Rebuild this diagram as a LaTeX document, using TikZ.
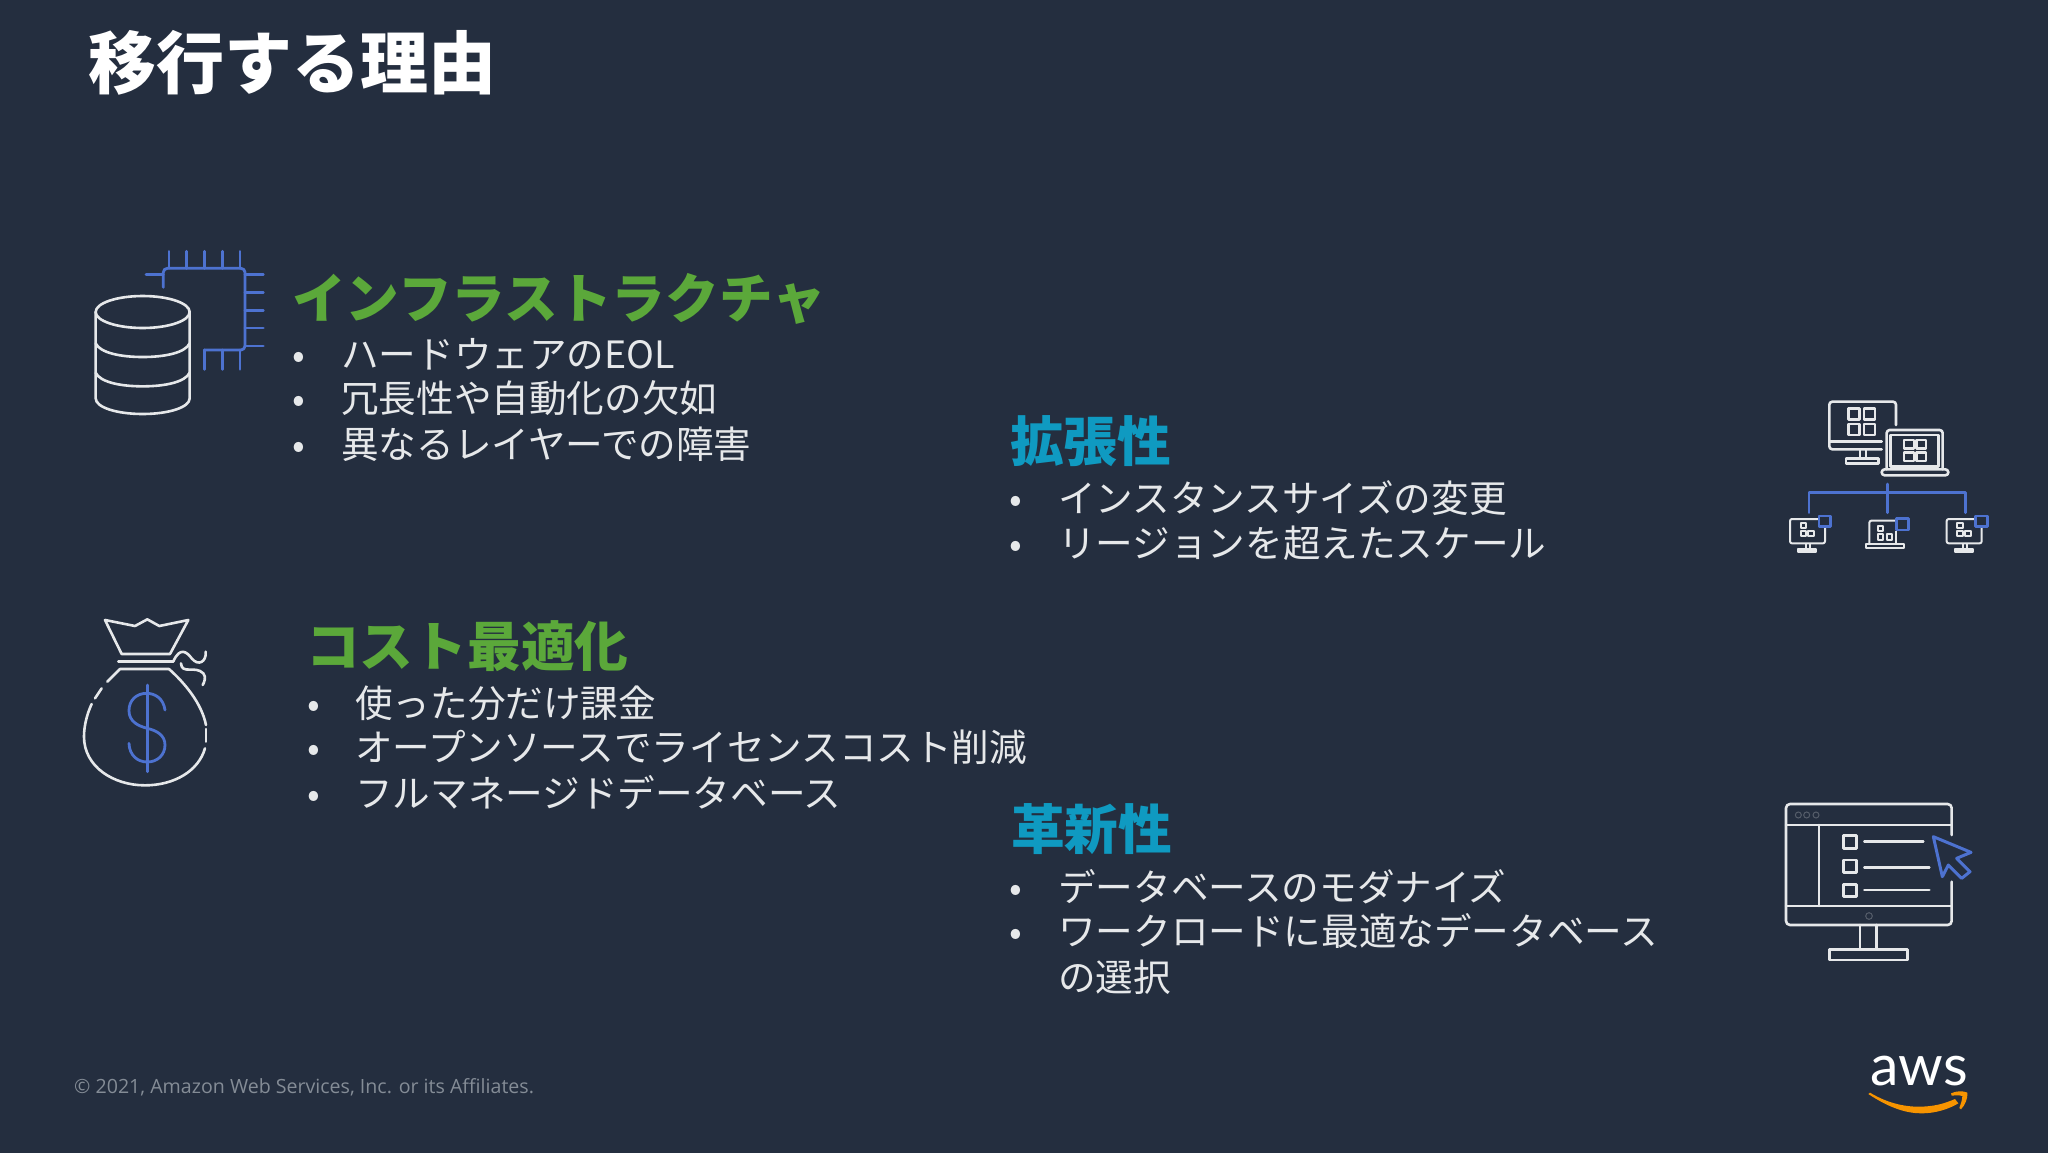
\documentclass[tikz,border=0pt]{standalone}
\usepackage{fontspec}
\setmainfont{Noto Sans CJK JP}
\newfontfamily\latinfont{Open Sans}
\newfontfamily\logofont{Lato}
\definecolor{bgc}{HTML}{242E3F}
\definecolor{greenc}{HTML}{5BA83A}
\definecolor{tealc}{HTML}{0F9AC1}
\definecolor{bluec}{HTML}{4D72D0}
\definecolor{linec}{HTML}{E6E8EA}
\definecolor{footc}{HTML}{848C96}
\definecolor{orangec}{HTML}{F79400}
\tikzset{
  txt/.style={anchor=west,inner sep=0pt},
  titletxt/.style={txt,text height=59pt,text depth=8pt,text=white,font=\fontsize{68}{68}\selectfont\bfseries},
  greenhead/.style={txt,text height=47pt,text depth=6pt,text=greenc,font=\fontsize{53.7}{53.7}\selectfont\bfseries},
  tealhead/.style={txt,text height=47pt,text depth=6pt,text=tealc,font=\fontsize{53.7}{53.7}\selectfont\bfseries},
  body/.style={txt,text height=33pt,text depth=4.5pt,text=linec,font=\fontsize{37.6}{45}\selectfont},
  bul/.style={anchor=center,inner sep=0pt,text height=33pt,text depth=4.5pt,text=linec,font=\fontsize{37.6}{45}\selectfont},
  wl/.style={draw=linec,line width=2.6pt,line join=round,line cap=round},
  bl/.style={draw=bluec,line width=2.8pt,line join=round,line cap=round},
  wt/.style={draw=linec,line width=2pt,line join=round},
  bs/.style={draw=bluec,line width=2.4pt,line join=round},
  faint/.style={draw=linec!25!bgc,line width=1pt},
}
\begin{document}
\begin{tikzpicture}[x=1pt,y=-1pt]
\useasboundingbox (0,0) rectangle (2048,1152);
\fill[bgc] (-4,-4) rectangle (2052,1156);

\node[titletxt] (title) at (88,63) {移行する理由};

% section 1
\node[greenhead] (h1) at (292,298) {インフラストラクチャ};
\node[bul] (b11) at (299,354) {•}; \node[body] (t11) at (341,354) {ハードウェアのEOL};
\node[bul] (b12) at (299,398) {•}; \node[body] (t12) at (341,398) {冗長性や自動化の欠如};
\node[bul] (b13) at (299,444) {•}; \node[body] (t13) at (341,444) {異なるレイヤーでの障害};

% section 2
\node[greenhead] (h2) at (306,646) {コスト最適化};
\node[bul] (b21) at (314,703) {•}; \node[body] (t21) at (355,703) {使った分だけ課金};
\node[bul] (b22) at (314,747) {•}; \node[body] (t22) at (355,747) {オープンソースでライセンスコスト削減};
\node[bul] (b23) at (314,793) {•}; \node[body] (t23) at (355,793) {フルマネージドデータベース};

% section 3
\node[tealhead] (h3) at (1010,441) {拡張性};
\node[bul] (b31) at (1016,498) {•}; \node[body] (t31) at (1058,498) {インスタンスサイズの変更};
\node[bul] (b32) at (1016,543) {•}; \node[body] (t32) at (1058,543) {リージョンを超えたスケール};

% section 4
\node[tealhead] (h4) at (1011,829) {革新性};
\node[bul] (b41) at (1016,887) {•}; \node[body] (t41) at (1058,887) {データベースのモダナイズ};
\node[bul] (b42) at (1016,931) {•}; \node[body] (t42) at (1058,931) {ワークロードに最適なデータベース};
\node[body] (t43) at (1058,977) {の選択};

% footer
\node[anchor=west,inner sep=0pt,text=footc,font=\latinfont\fontsize{19.6}{24}\selectfont] (foot) at (74,1087) {© 2021, Amazon Web Services, Inc. or its Affiliates.};

% icon 1: database + chip
\begin{scope}[shift={(70,230)},scale=1/3]
  \draw[bl,rounded corners=4pt] (280,172) -- (280,115) -- (525,115) -- (525,360) -- (403,360);
  \draw[bl] (228,133) -- (280,133);
  \foreach \x in {297,350,403,457,510} \draw[bl] (\x,64) -- (\x,115);
  \foreach \y in {133,187,241,294,348} \draw[bl] (525,\y) -- (580,\y);
  \foreach \x in {403,457,510} \draw[bl] (\x,360) -- (\x,418);
  \draw[wl] (218,246) ellipse [x radius=141,y radius=48];
  \draw[wl] (77,246) -- (77,505) .. controls (77,532) and (140,552) .. (218,552) .. controls (296,552) and (359,532) .. (359,505) -- (359,246);
  \draw[wl] (77,340) .. controls (90,368) and (150,381) .. (218,381) .. controls (286,381) and (346,368) .. (359,340);
  \draw[wl] (77,428) .. controls (90,456) and (150,469) .. (218,469) .. controls (286,469) and (346,456) .. (359,428);
\end{scope}

% icon 2: money bag
\begin{scope}[shift={(70,600)},scale=1/3]
  \draw[wl] (105,60) -- (195,78) -- (232,58) -- (268,78) -- (355,60) -- (300,162) -- (155,162) -- cycle;
  \draw[wl] (145,184) -- (310,184);
  \draw[wl] (310,184) .. controls (330,140) and (350,155) .. (365,175) .. controls (385,200) and (410,185) .. (407,155);
  \draw[wl] (333,190) .. controls (335,225) and (375,195) .. (400,220) .. controls (410,232) and (402,248) .. (398,255);
  \draw[wl] (112,245) -- (150,207) -- (297,207) .. controls (345,250) and (395,310) .. (408,375);
  \draw[wl] (408,387) -- (408,425);
  \draw[wl] (405,445) .. controls (385,515) and (310,556) .. (225,556) .. controls (130,556) and (42,500) .. (42,410) .. controls (42,375) and (52,340) .. (65,312);
  \draw[wl] (75,295) -- (95,265);
  \draw[bl] (233,255) -- (233,515);
  \draw[bl] (285,330) .. controls (280,295) and (255,280) .. (230,280) .. controls (200,280) and (177,300) .. (177,332) .. controls (177,365) and (205,378) .. (232,385) .. controls (260,392) and (285,405) .. (285,435) .. controls (285,465) and (262,486) .. (232,486) .. controls (202,486) and (178,465) .. (177,430);
\end{scope}

% icon 3: scale
\begin{scope}[shift={(1770,390)},scale=1/3]
  \draw[wl,rounded corners=3pt] (378,105) -- (378,35) -- (178,35) -- (178,178) -- (335,178);
  \draw[wl] (178,155) -- (335,155);
  \draw[wl] (270,178) -- (270,205) (288,178) -- (288,205);
  \draw[wl] (228,205) rectangle (325,220);
  \draw[wl] (235,55) rectangle (268,88) (282,55) rectangle (315,88) (235,102) rectangle (268,135) (282,102) rectangle (315,135);
  \draw[wl,rounded corners=3pt] (350,238) -- (350,120) -- (518,120) -- (518,238);
  \draw[wl] (362,135) rectangle (505,230);
  \draw[wl,rounded corners=3pt] (335,238) -- (535,238) -- (535,256) -- (335,256) -- cycle;
  \draw[wl] (402,150) rectangle (432,175) (440,150) rectangle (468,175) (402,187) rectangle (432,213) (440,187) rectangle (468,213);
  \draw[bl] (352,282) -- (352,368);
  \draw[bl] (117,368) -- (117,308) -- (587,308) -- (587,368);
  \foreach \dx in {0,470}{
    \begin{scope}[shift={(\dx,0)}]
      \draw[wt,rounded corners=2pt] (145,387) -- (60,387) -- (60,460) -- (165,460) -- (165,412);
      \draw[wt] (108,460) -- (108,478) (120,460) -- (120,478);
      \draw[wt,fill=linec] (85,478) rectangle (138,487);
      \draw[wt] (92,398) rectangle (108,413) (92,423) rectangle (108,438) (115,423) rectangle (132,438);
      \draw[bs] (147,378) rectangle (182,410);
    \end{scope}
  }
  \draw[wt,rounded corners=2pt] (375,392) -- (298,392) -- (298,462);
  \draw[wt] (378,422) -- (378,462);
  \draw[wt] (287,462) rectangle (402,475);
  \draw[wt] (323,407) rectangle (340,423) (323,432) rectangle (340,449) (350,432) rectangle (365,449);
  \draw[bs] (380,386) rectangle (415,420);
\end{scope}

% icon 4: console
\begin{scope}[shift={(1770,790)},scale=1/3]
  \draw[wl,rounded corners=4pt] (545,135) -- (545,42) -- (48,42) -- (48,405) -- (545,405) -- (545,275);
  \draw[wl] (48,105) -- (545,105) (48,348) -- (545,348) (147,105) -- (147,348);
  \draw[faint] (85,75) circle (9) (110,75) circle (9) (138,75) circle (9) (297,378) circle (10);
  \draw[wl] (220,137) rectangle (260,175) (220,210) rectangle (260,248) (220,283) rectangle (260,320);
  \draw[wl] (283,155) -- (460,155) (283,232) -- (478,232) (283,300) -- (478,300);
  \draw[wl] (270,405) -- (270,478) (320,405) -- (320,478);
  \draw[wl] (178,478) rectangle (412,510);
  \draw[bl,line width=3pt] (490,140) -- (603,187) -- (560,205) -- (600,245) -- (575,265) -- (535,225) -- (517,260) -- cycle;
\end{scope}

% aws logo
\node[anchor=base,inner sep=0pt,text=white,font=\logofont\fontsize{57}{57}\selectfont] (aws) at (1919,1085) {aws};
\begin{scope}[shift={(1850,1030)},scale=1/3]
  \fill[orangec] (55,192) .. controls (120,235) and (170,250) .. (215,250) .. controls (255,250) and (295,238) .. (325,220) -- (315,207) .. controls (280,222) and (250,230) .. (205,230) .. controls (160,230) and (110,218) .. (60,188) -- cycle;
  \fill[orangec] (303,190) .. controls (320,182) and (340,182) .. (352,188) .. controls (354,205) and (345,225) .. (333,238) -- (328,234) .. controls (333,220) and (337,208) .. (337,198) .. controls (328,195) and (315,196) .. (305,197) -- cycle;
\end{scope}
\end{tikzpicture}
\end{document}
